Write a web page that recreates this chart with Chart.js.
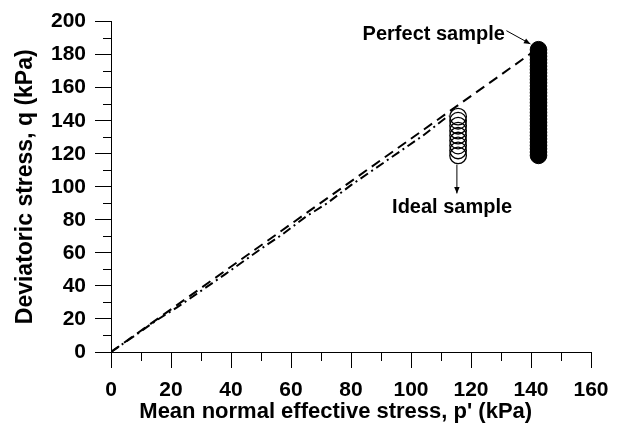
<!DOCTYPE html>
<html lang="en">
<head>
<meta charset="UTF-8">
<title>Stress paths</title>
<script src="https://cdn.jsdelivr.net/npm/chart.js@4/dist/chart.umd.min.js"></script>
<style>
    html, body { margin:0; padding:0; background:#fff; }
    #wrap { width:621px; height:428px; }
</style>
</head>
<body>
<div id="wrap"><canvas id="cv"></canvas></div>
<script>
// perfect sample stress path (dashed)
var perfectPathP = [0, 142.5];
var perfectPathQ = [0, 184];
// ideal sample stress path (dash-dot)
var idealPathP = [0, 8, 15, 22, 30, 38, 45, 52, 57, 65, 72, 80, 88, 96, 104, 112.5];
var idealPathQ = [0, 10, 19, 27, 37, 47, 56, 65, 71, 82, 90, 101, 111, 121, 131, 143];
// end of shearing points
var perfectP = [142.5, 142.5, 142.5, 142.5, 142.5, 142.5, 142.5, 142.5, 142.5, 142.5, 142.5, 142.5, 142.5, 142.5, 142.5, 142.5, 142.5, 142.5, 142.5, 142.5, 142.5, 142.5, 142.5, 142.5, 142.5, 142.5, 142.5, 142.5, 142.5, 142.5, 142.5, 142.5, 142.5];
var perfectQ = [119, 121, 123, 125, 127, 129, 131, 133, 135, 137, 139, 141, 143, 145, 147, 149, 151, 153, 155, 157, 159, 161, 163, 165, 167, 169, 171, 173, 175, 177, 179, 181, 183];
var idealP = [115.7, 115.7, 115.7, 115.7, 115.7, 115.7, 115.7, 115.7, 115.7];
var idealQ = [119, 122, 125, 128, 131, 134, 137, 140, 142.5];

var xTicks = [0, 20, 40, 60, 80, 100, 120, 140, 160];
var yTicks = [0, 20, 40, 60, 80, 100, 120, 140, 160, 180, 200];

function pts(px, qy) {
    var out = [];
    for (var i = 0; i < px.length; i++) out.push({ x: px[i], y: qy[i] });
    return out;
}

var FONT = "'Liberation Sans', Arial, sans-serif";

// minor ticks + the two labelled arrows
var extras = {
    id: 'extras',
    afterDraw: function (chart) {
        var ctx = chart.ctx, xs = chart.scales.x, ys = chart.scales.y;
        var a = chart.chartArea;
        ctx.save();
        ctx.strokeStyle = '#000';
        ctx.lineWidth = 1;
        ctx.beginPath();
        for (var v = 10; v < 200; v += 20) {
            var y = Math.round(ys.getPixelForValue(v)) + 0.5;
            ctx.moveTo(a.left - 8, y); ctx.lineTo(a.left, y);
        }
        for (var u = 10; u < 160; u += 20) {
            var x = Math.round(xs.getPixelForValue(u)) + 0.5;
            ctx.moveTo(x, a.bottom); ctx.lineTo(x, a.bottom + 9);
        }
        ctx.stroke();

        ctx.fillStyle = '#000';
        ctx.font = 'bold 20px ' + FONT;
        ctx.textBaseline = 'middle';
        // Perfect sample
        ctx.textAlign = 'right';
        ctx.fillText('Perfect sample', xs.getPixelForValue(131.3), ys.getPixelForValue(192.5));
        arrow(ctx, xs.getPixelForValue(131.8), ys.getPixelForValue(194.5),
                   xs.getPixelForValue(139.8), ys.getPixelForValue(186.5));
        // Ideal sample
        ctx.textAlign = 'center';
        ctx.fillText('Ideal sample', xs.getPixelForValue(113.7), ys.getPixelForValue(87.5));
        arrow(ctx, xs.getPixelForValue(115.3), ys.getPixelForValue(113.5),
                   xs.getPixelForValue(115.3), ys.getPixelForValue(96));
        ctx.restore();
    }
};

function arrow(ctx, x1, y1, x2, y2) {
    var ang = Math.atan2(y2 - y1, x2 - x1);
    ctx.beginPath();
    ctx.moveTo(x1, y1); ctx.lineTo(x2, y2);
    ctx.stroke();
    ctx.beginPath();
    ctx.moveTo(x2, y2);
    ctx.lineTo(x2 - 7 * Math.cos(ang - 0.4), y2 - 7 * Math.sin(ang - 0.4));
    ctx.lineTo(x2 - 7 * Math.cos(ang + 0.4), y2 - 7 * Math.sin(ang + 0.4));
    ctx.closePath();
    ctx.fill();
}

var chart = new Chart(document.getElementById('cv'), {
    type: 'scatter',
    data: {
        datasets: [
            {
                label: 'Perfect sample path',
                data: pts(perfectPathP, perfectPathQ),
                showLine: true,
                borderColor: '#000',
                borderWidth: 2,
                borderDash: [10, 6],
                pointRadius: 0,
                order: 3
            },
            {
                label: 'Ideal sample path',
                data: pts(idealPathP, idealPathQ),
                showLine: true,
                borderColor: '#000',
                borderWidth: 2,
                borderDash: [9, 4, 2, 4],
                pointRadius: 0,
                order: 4
            },
            {
                label: 'Perfect sample',
                data: pts(perfectP, perfectQ),
                pointRadius: 8.3,
                pointBackgroundColor: '#000',
                pointBorderColor: '#000',
                pointBorderWidth: 1,
                order: 1
            },
            {
                label: 'Ideal sample',
                data: pts(idealP, idealQ),
                pointRadius: 8.3,
                pointBackgroundColor: 'rgba(0,0,0,0)',
                pointBorderColor: '#000',
                pointBorderWidth: 1.3,
                order: 2
            }
        ]
    },
    options: {
        responsive: true,
        maintainAspectRatio: false,
        animation: false,
        events: [],
        layout: { padding: { top: 20, right: 30, left: 0, bottom: 0 } },
        plugins: { legend: { display: false }, tooltip: { enabled: false } },
        scales: {
            x: {
                type: 'linear',
                min: 0, max: 160,
                afterFit: function (s) { s.height = 76; },
                afterBuildTicks: function (s) { s.ticks = xTicks.map(function (v) { return { value: v }; }); },
                grid: { drawOnChartArea: false, drawTicks: true, tickLength: 16, color: '#000', lineWidth: 1 },
                border: { color: '#000', width: 1 },
                ticks: { color: '#000', padding: 10, maxRotation: 0, font: { family: FONT, size: 21, weight: 'bold' } },
                title: {
                    display: true,
                    // trailing spaces nudge the centred title left, as in the original
                    text: "Mean normal effective stress, p' (kPa)     ",
                    color: '#000',
                    font: { family: FONT, size: 22, weight: 'bold' },
                    padding: { top: 0, bottom: 3 }
                }
            },
            y: {
                type: 'linear',
                min: 0, max: 200,
                afterFit: function (s) { s.width = 111; },
                afterBuildTicks: function (s) { s.ticks = yTicks.map(function (v) { return { value: v }; }); },
                grid: { drawOnChartArea: false, drawTicks: true, tickLength: 16, color: '#000', lineWidth: 1 },
                border: { color: '#000', width: 1 },
                ticks: { color: '#000', padding: 9, font: { family: FONT, size: 21, weight: 'bold' } },
                title: {
                    display: true,
                    text: 'Deviatoric stress, q (kPa)',
                    color: '#000',
                    font: { family: FONT, size: 23, weight: 'bold' },
                    padding: { top: 12, bottom: 0 }
                }
            }
        }
    },
    plugins: [extras]
});
</script>
</body>
</html>
